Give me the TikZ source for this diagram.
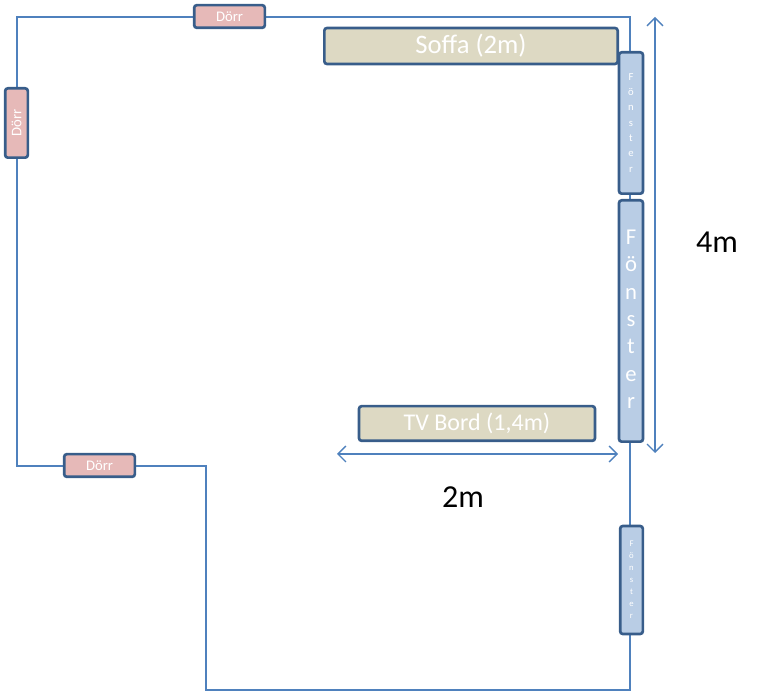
\documentclass[tikz,border=0pt]{standalone}
\usepackage{fontspec}
\setmainfont{Carlito}
\usetikzlibrary{arrows.meta}
\definecolor{wall}{HTML}{4F81BD}
\definecolor{bd}{HTML}{385D8A}
\definecolor{door}{HTML}{E6B9B8}
\definecolor{furn}{HTML}{DDD9C3}
\definecolor{win}{HTML}{B9CDE5}
\begin{document}
\begin{tikzpicture}[x=0.75pt,y=-0.75pt,
  box/.style={draw=bd,line width=2pt,rounded corners=2pt,text=white,inner sep=0pt},
  doorbox/.style={box,fill=door,font=\fontsize{11}{11}\selectfont},
  furnbox/.style={box,fill=furn},
  winbox/.style={box,fill=win},
  dim/.style={draw=wall,line width=1pt,{Straight Barb[length=6pt,width=12pt]}-{Straight Barb[length=6pt,width=12pt]}}]
\useasboundingbox (0,0) rectangle (765,691);
\draw[wall,line width=1pt] (17,17) -- (630,17) -- (630,690) -- (206,690) -- (206,466) -- (17,466) -- cycle;
\node[doorbox,minimum width=53pt,minimum height=17pt] (d1) at (229.5,16.5) {Dörr};
\node[doorbox,minimum width=17pt,minimum height=52pt] (d2) at (16.5,123) {\rotatebox{90}{Dörr}};
\node[doorbox,minimum width=53pt,minimum height=17pt] (d3) at (99.5,465.5) {Dörr};
\node[furnbox,minimum width=220pt,minimum height=27pt,font=\fontsize{20}{20}\selectfont] (s) at (471,46) {Soffa (2m)};
\node[furnbox,minimum width=177pt,minimum height=26pt,font=\fontsize{18}{18}\selectfont] (tv) at (477,423.5) {TV Bord (1,4m)};
\node[winbox,minimum width=18pt,minimum height=106pt,font=\fontsize{8}{11.5}\selectfont] (w1) at (631,123) {\begin{tabular}{@{}c@{}}F\\ö\\n\\s\\t\\e\\r\end{tabular}};
\node[winbox,minimum width=18pt,minimum height=181pt,font=\fontsize{17}{20.5}\selectfont] (w2) at (631,321) {\begin{tabular}{@{}c@{}}F\\ö\\n\\s\\t\\e\\r\end{tabular}};
\node[winbox,minimum width=17pt,minimum height=81pt,font=\fontsize{6.5}{9}\selectfont] (w3) at (631.5,580) {\begin{tabular}{@{}c@{}}F\\ö\\n\\s\\t\\e\\r\end{tabular}};
\coordinate (v1) at (655,17); \coordinate (v2) at (655,453);
\coordinate (h1) at (337,454); \coordinate (h2) at (618,454);
\draw[dim] (v1) -- (v2);
\draw[dim] (h1) -- (h2);
\node[font=\fontsize{24}{24}\selectfont] (l4) at (717,242) {4m};
\node[font=\fontsize{24}{24}\selectfont] (l2) at (463,497) {2m};
\end{tikzpicture}
\end{document}
